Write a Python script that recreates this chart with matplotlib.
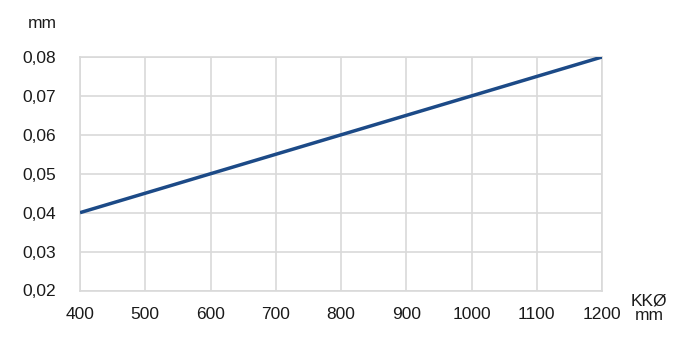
import matplotlib
matplotlib.use("Agg")
import matplotlib.pyplot as plt

plt.rcParams["font.family"] = ["Liberation Sans", "DejaVu Sans"]

# data
diameter_mm = [400, 1200]
tolerance_mm = [0.04, 0.08]

x_ticks = [400, 500, 600, 700, 800, 900, 1000, 1100, 1200]
y_ticks = [0.02, 0.03, 0.04, 0.05, 0.06, 0.07, 0.08]
y_labels = [f"{v:.2f}".replace(".", ",") for v in y_ticks]

grid_col = "#d9d9d9"
txt_col = "#1a1a1a"
fs = 12.5

fig = plt.figure(figsize=(7.0, 3.44), dpi=100)
ax = fig.add_axes([80 / 700, 1 - 290.5 / 344, (602 - 80) / 700, (290.5 - 57) / 344])

ax.plot(diameter_mm, tolerance_mm, color="#1c4a87", lw=2.5, solid_capstyle="butt", zorder=3)

ax.set_xlim(400, 1200)
ax.set_ylim(0.02, 0.08)
ax.set_xticks(x_ticks)
ax.set_yticks(y_ticks)
ax.set_yticklabels(y_labels)
ax.grid(color=grid_col, lw=1.2)
for s in ax.spines.values():
    s.set_color(grid_col)
    s.set_linewidth(1.2)
ax.tick_params(length=0, labelsize=fs, colors=txt_col)
ax.tick_params(axis="x", pad=12)
ax.tick_params(axis="y", pad=17)

fig.text(57 / 700, 1 - 23 / 344, "mm", ha="right", va="center", fontsize=fs, color=txt_col)
fig.text(649 / 700, 1 - 308 / 344, "KKØ\nmm", ha="center", va="center",
         fontsize=fs, color=txt_col, linespacing=0.95)

fig.savefig("out.png", dpi=100)
